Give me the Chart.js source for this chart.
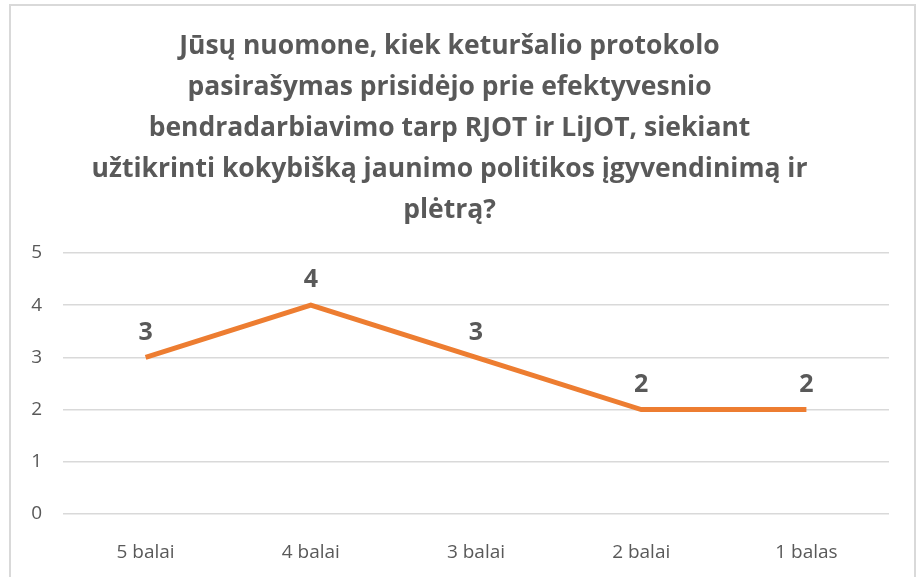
<!DOCTYPE html>
<html>
<head>
<meta charset="utf-8">
<script src="https://cdn.jsdelivr.net/npm/chart.js@4.4.1/dist/chart.umd.min.js"></script>
<style>
  html, body { margin: 0; padding: 0; background: #fff; }
  #wrap { position: relative; width: 920px; height: 577px; overflow: hidden; }
  #frame { position: absolute; left: 9px; top: 4px; width: 907px; height: 600px; border: 2px solid #d9d9d9; box-sizing: border-box; }
  canvas { position: absolute; left: 0; top: 0; }
</style>
</head>
<body>
<div id="wrap">
  <div id="frame"></div>
  <canvas id="chart" width="920" height="577"></canvas>
</div>
<script>
const titleLines = [
  'Jūsų nuomone, kiek keturšalio protokolo',
  'pasirašymas prisidėjo prie efektyvesnio',
  'bendradarbiavimo tarp RJOT ir LiJOT, siekiant',
  'užtikrinti kokybišką jaunimo politikos įgyvendinimą ir',
  'plėtrą?'
];
const categories = ['5 balai', '4 balai', '3 balai', '2 balai', '1 balas'];
const values = [3, 4, 3, 2, 2];
const yTicks = [0, 1, 2, 3, 4, 5];

const FONT = '"Open Sans", "DejaVu Sans", sans-serif';
const TEXT = '#595959';

// vertės virš taškų
const valueLabels = {
  id: 'valueLabels',
  afterDatasetsDraw(chart) {
    const ctx = chart.ctx;
    const meta = chart.getDatasetMeta(0);
    ctx.save();
    ctx.font = 'bold 25px ' + FONT;
    ctx.fillStyle = TEXT;
    ctx.textAlign = 'center';
    ctx.textBaseline = 'middle';
    meta.data.forEach((pt, i) => {
      ctx.fillText(String(values[i]), pt.x, pt.y - 25);
    });
    ctx.restore();
  }
};

new Chart(document.getElementById('chart'), {
  type: 'line',
  data: {
    labels: categories,
    datasets: [{
      data: values,
      borderColor: '#ed7d31',
      borderWidth: 5,
      pointRadius: 0,
      pointHoverRadius: 0,
      tension: 0,
      fill: false
    }]
  },
  options: {
    responsive: false,
    animation: false,
    layout: { padding: { left: 10, right: 31, top: 4, bottom: 0 } },
    plugins: {
      legend: { display: false },
      tooltip: { enabled: false },
      title: {
        display: true,
        text: titleLines,
        color: TEXT,
        font: { family: FONT, size: 26.5, weight: 'bold', lineHeight: 41 / 26.5 },
        padding: { top: 22, bottom: 22 }
      }
    },
    scales: {
      x: {
        offset: true,
        grid: { display: false },
        border: { display: false },
        ticks: { color: TEXT, font: { family: FONT, size: 19 }, padding: 19 },
        afterFit(scale) { scale.height = 63; }
      },
      y: {
        min: 0,
        max: 5,
        afterBuildTicks(scale) { scale.ticks = yTicks.map(v => ({ value: v })); },
        grid: { color: '#d9d9d9', lineWidth: 1.5, drawTicks: false },
        border: { display: false },
        ticks: { color: TEXT, font: { family: FONT, size: 19 }, padding: 21 },
        afterFit(scale) { scale.width = 53; }
      }
    }
  },
  plugins: [valueLabels]
});
</script>
</body>
</html>
